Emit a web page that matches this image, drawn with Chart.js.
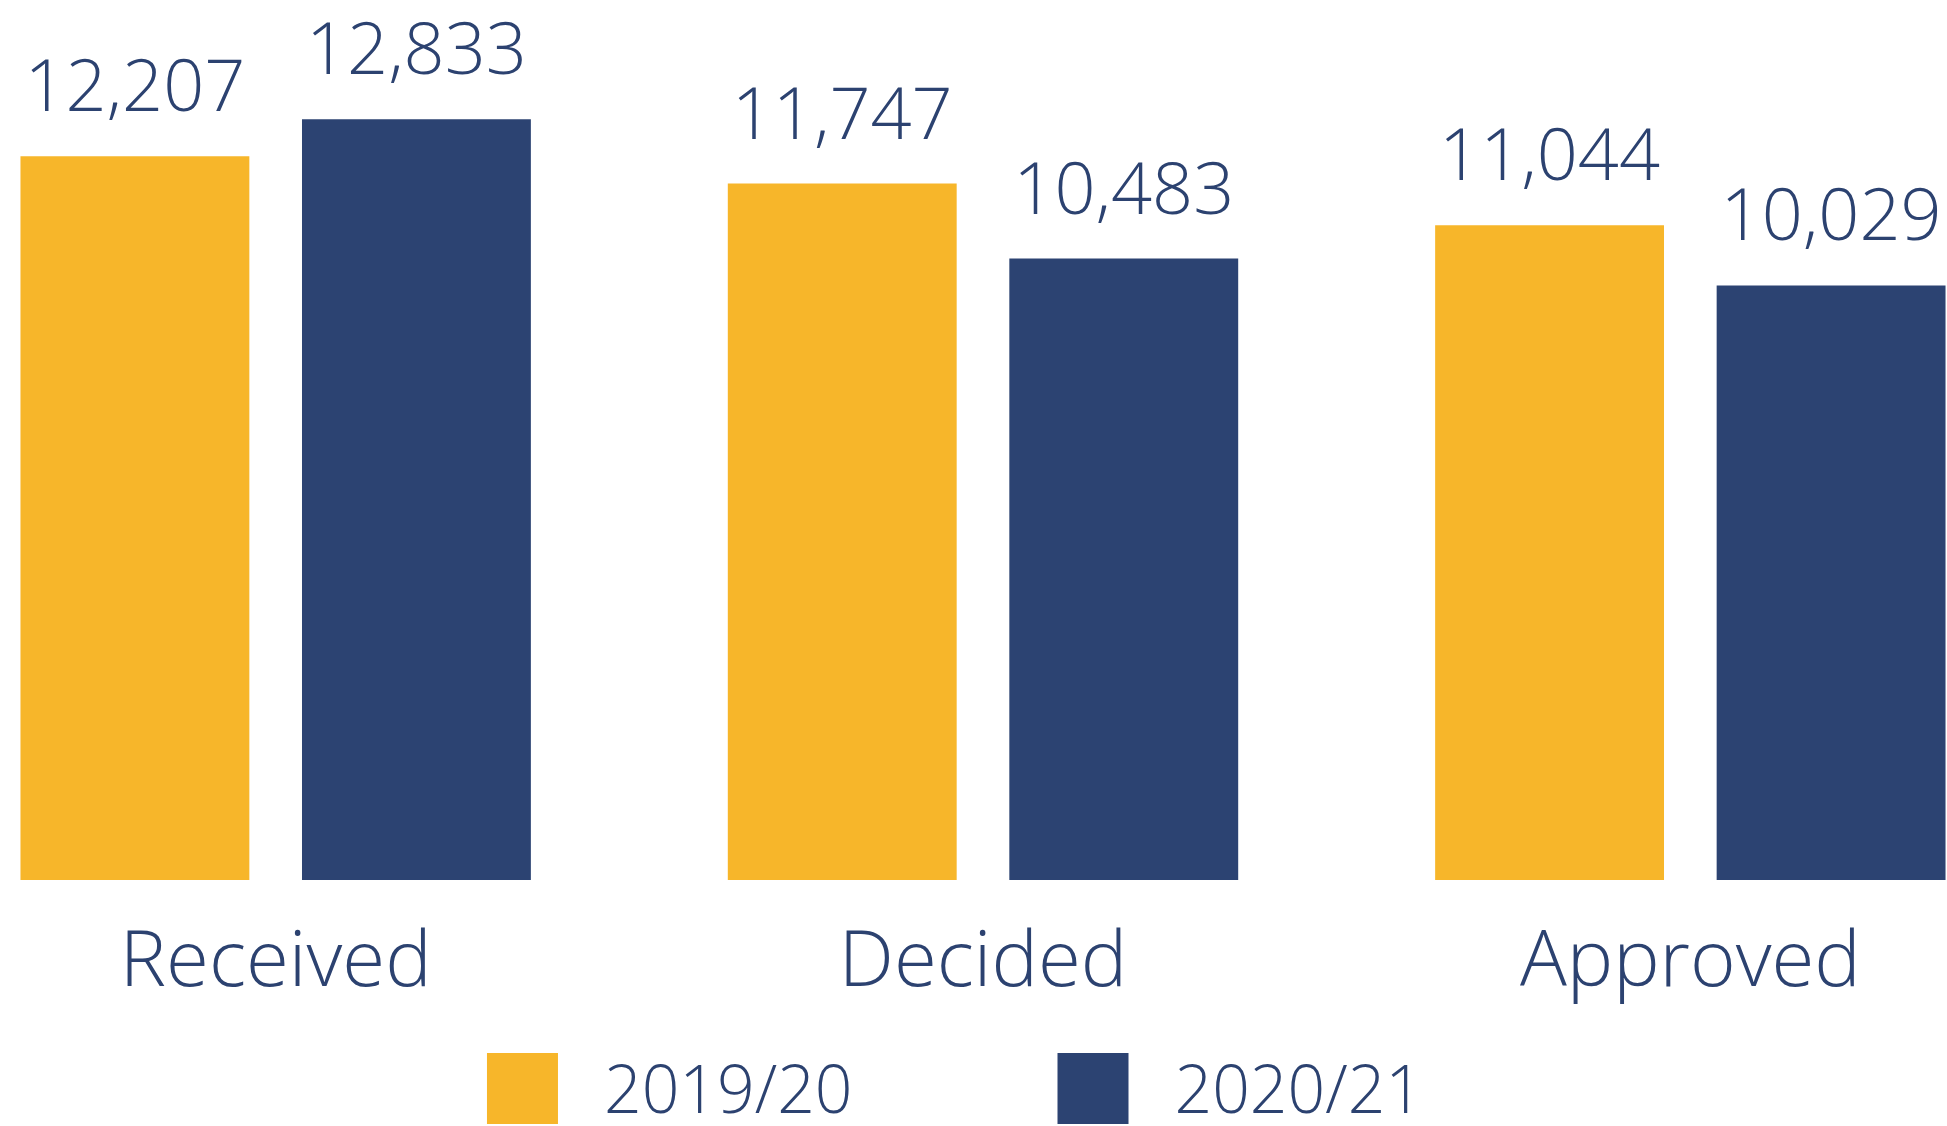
<!DOCTYPE html>
<html>
<head>
<meta charset="utf-8">
<script src="https://cdn.jsdelivr.net/npm/chart.js@4.4.1/dist/chart.umd.min.js"></script>
<style>
  html, body { margin: 0; padding: 0; background: #fff; }
  #frame { position: absolute; left: 0; top: 0; width: 1947px; height: 1126px; overflow: hidden; }
  #wrap { position: absolute; left: -78px; top: 0; width: 2122px; height: 1126px; }
</style>
</head>
<body>
<div id="frame"><div id="wrap"><canvas id="barChart"></canvas></div></div>
<script>
var categories = ['Received', 'Decided', 'Approved'];
var seriesNames = ['2019/20', '2020/21'];
var values2019 = [12207, 11747, 11044];
var values2020 = [12833, 10483, 10029];
var colors = ['#F7B62A', '#2C4372'];

var textColor = '#2C4270';
var fontFamily = "'Open Sans', 'Lato', sans-serif";

// numbers above each bar
var valueLabels = {
  id: 'valueLabels',
  afterDatasetsDraw: function (chart) {
    var ctx = chart.ctx;
    ctx.save();
    ctx.fillStyle = textColor;
    ctx.font = '300 72px ' + fontFamily;
    ctx.textAlign = 'center';
    ctx.textBaseline = 'alphabetic';
    chart.data.datasets.forEach(function (ds, i) {
      chart.getDatasetMeta(i).data.forEach(function (bar, j) {
        ctx.fillText(ds.data[j].toLocaleString('en-US'), bar.x, bar.y - 45);
      });
    });
    ctx.restore();
  }
};

// legend row under the axis
var squareLegend = {
  id: 'squareLegend',
  afterDraw: function (chart) {
    var ctx = chart.ctx;
    var box = 71, gapText = 46, gapItem = 205;
    ctx.save();
    ctx.font = '300 66px ' + fontFamily;
    ctx.textBaseline = 'alphabetic';
    ctx.textAlign = 'left';
    var widths = chart.data.datasets.map(function (ds) { return ctx.measureText(ds.label).width; });
    var total = box * 2 + gapText * 2 + widths[0] + widths[1] + gapItem;
    var x = (chart.chartArea.left + chart.chartArea.right) / 2 - 28 - total / 2;
    var top = chart.height - 73;
    chart.data.datasets.forEach(function (ds, i) {
      ctx.fillStyle = ds.backgroundColor;
      ctx.fillRect(x, top, box, box);
      x += box + gapText;
      ctx.fillStyle = textColor;
      ctx.fillText(ds.label, x, top + 60);
      x += widths[i] + gapItem;
    });
    ctx.restore();
  }
};

var ctx = document.getElementById('barChart').getContext('2d');
var barChart = new Chart(ctx, {
  type: 'bar',
  data: {
    labels: categories,
    datasets: [{
      label: seriesNames[0],
      data: values2019,
      backgroundColor: colors[0],
      barPercentage: 0.813,
      categoryPercentage: 0.796
    }, {
      label: seriesNames[1],
      data: values2020,
      backgroundColor: colors[1],
      barPercentage: 0.813,
      categoryPercentage: 0.796
    }]
  },
  options: {
    responsive: true,
    maintainAspectRatio: false,
    animation: false,
    layout: { padding: { top: 50, bottom: 86, left: 0, right: 0 } },
    plugins: {
      legend: { display: false },
      tooltip: { enabled: false }
    },
    scales: {
      x: {
        grid: { display: false, drawTicks: false },
        border: { display: false },
        ticks: {
          color: textColor,
          padding: 37,
          font: { family: fontFamily, size: 78, weight: '300' }
        },
        afterFit: function (axis) { axis.height = 160; }
      },
      y: {
        display: false,
        min: 0,
        max: 14000
      }
    }
  },
  plugins: [valueLabels, squareLegend]
});
</script>
</body>
</html>
